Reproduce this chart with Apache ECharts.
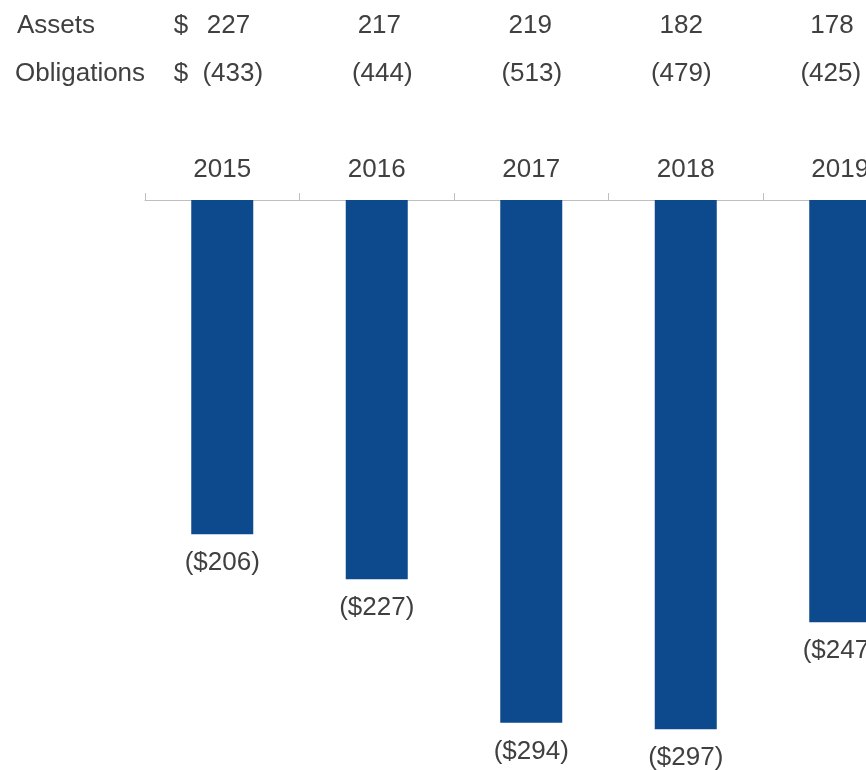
<!DOCTYPE html>
<html>
<head>
<meta charset="utf-8">
<script src="https://cdn.jsdelivr.net/npm/echarts@6/dist/echarts.min.js"></script>
<style>
  html, body { margin: 0; padding: 0; background: #ffffff; }
  #chart { width: 866px; height: 770px; }
</style>
</head>
<body>
<div id="chart"></div>
<script>
// Funded status by year ($ millions)
const years = ['2015', '2016', '2017', '2018', '2019'];
const assets = [227, 217, 219, 182, 178];
const obligations = [-433, -444, -513, -479, -425];
const fundedStatus = [-206, -227, -294, -297, -247];

const TEXT = '#404040';
const BAR = '#0c4a8d';
const LINE = '#bfbfbf';
const FONT = '"Liberation Sans", Arial, sans-serif';
const FS = 26;

const paren = v => v < 0 ? '(' + Math.abs(v) + ')' : String(v);

const chart = echarts.init(document.getElementById('chart'), null, { renderer: 'canvas' });

chart.setOption({
  animation: false,
  backgroundColor: '#ffffff',
  textStyle: { fontFamily: FONT },
  grid: [
    { left: 145, width: 772.5, top: 200, bottom: 34.3, outerBoundsMode: 'none', containLabel: false },
    { left: 153, width: 754.5, top: 100, height: 10, outerBoundsMode: 'none', containLabel: false },
    { left: 158, width: 747.5, top: 100, height: 10, outerBoundsMode: 'none', containLabel: false }
  ],
  xAxis: [
    {
      type: 'category', gridIndex: 0, position: 'top', data: years,
      axisLine: { show: true, lineStyle: { color: LINE, width: 1 } },
      axisTick: { show: true, length: 7, lineStyle: { color: LINE } },
      axisLabel: { color: TEXT, fontSize: FS, fontFamily: FONT, margin: 17 }
    },
    {
      type: 'category', gridIndex: 1, position: 'top', offset: 61,
      data: assets.map(paren),
      axisLine: { show: false }, axisTick: { show: false },
      axisLabel: { color: TEXT, fontSize: FS, fontFamily: FONT, margin: 0 }
    },
    {
      type: 'category', gridIndex: 2, position: 'top', offset: 13,
      data: obligations.map(paren),
      axisLine: { show: false }, axisTick: { show: false },
      axisLabel: { color: TEXT, fontSize: FS, fontFamily: FONT, margin: 0 }
    }
  ],
  yAxis: [
    { type: 'value', gridIndex: 0, min: -300, max: -50, show: false },
    { type: 'value', gridIndex: 1, show: false },
    { type: 'value', gridIndex: 2, show: false }
  ],
  series: [{
    type: 'bar',
    xAxisIndex: 0, yAxisIndex: 0,
    data: fundedStatus,
    barWidth: 62,
    clip: true,
    itemStyle: { color: BAR },
    label: {
      show: true, position: 'bottom', distance: 16,
      color: TEXT, fontSize: FS, fontFamily: FONT,
      formatter: p => '($' + Math.abs(p.value) + ')'
    }
  }],
  graphic: [
    { type: 'text', x: 17, y: 26, style: { text: 'Assets', fill: TEXT, font: FS + 'px ' + FONT, verticalAlign: 'middle' } },
    { type: 'text', x: 15, y: 74, style: { text: 'Obligations', fill: TEXT, font: FS + 'px ' + FONT, verticalAlign: 'middle' } },
    { type: 'text', x: 181, y: 26, style: { text: '$', fill: TEXT, font: FS + 'px ' + FONT, align: 'center', verticalAlign: 'middle' } },
    { type: 'text', x: 181, y: 74, style: { text: '$', fill: TEXT, font: FS + 'px ' + FONT, align: 'center', verticalAlign: 'middle' } }
  ]
});
</script>
</body>
</html>
